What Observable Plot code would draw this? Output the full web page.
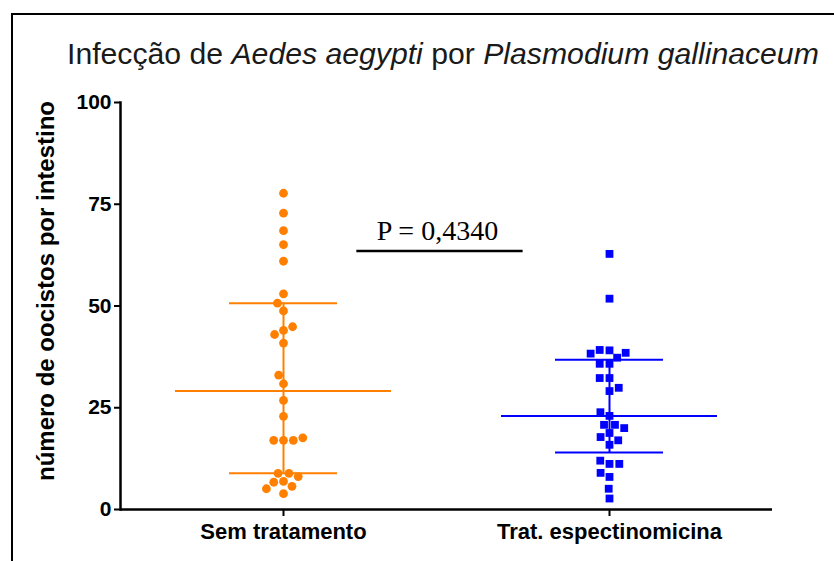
<!DOCTYPE html>
<html><head><meta charset="utf-8">
<script src="https://cdn.jsdelivr.net/npm/d3@7"></script>
<script src="https://cdn.jsdelivr.net/npm/@observablehq/plot@0.6"></script>
<style>
html,body{margin:0;padding:0;background:#fff;}
#wrap{position:relative;width:834px;height:561px;overflow:hidden;font-family:"Liberation Sans",Arial,sans-serif;}
#border{position:absolute;left:11px;top:13px;width:900px;height:700px;border-top:2px solid #000;border-left:2px solid #000;}
#title{position:absolute;left:67px;top:39px;white-space:nowrap;font-size:30.2px;color:#1a1a1a;line-height:1;}
#chart{position:absolute;left:0;top:80px;}
</style>
</head><body>
<div id="wrap">
  <div id="border"></div>
  <div id="title">Infecção de <i>Aedes aegypti</i> por <i>Plasmodium gallinaceum</i></div>
  <div id="chart"></div>
</div>
<script>
const categories = ["Sem tratamento", "Trat. espectinomicina"];
// points of each group (number of oocysts per midgut)
const semTratamento = [77.7, 72.8, 68.5, 65.1, 61.0, 53.0, 48.8, 44.0, 40.9, 30.9, 26.8, 22.9, 17.0, 6.9, 3.9,
  50.7, 43.0, 44.9, 33.0, 17.0, 17.0, 17.6, 8.9, 8.9, 8.1, 6.7, 5.7, 5.1];
const espectinomicina = [62.8, 51.8, 39.1, 35.8, 32.3, 29.1, 23.0, 18.8, 15.9, 11.2, 8.0, 2.7,
  39.2, 37.3, 38.5, 38.3, 35.8, 32.3, 29.9, 23.9, 20.8, 20.8, 20.0, 17.8, 17.0, 12.0, 11.2, 9.0, 5.1];
// median and interquartile range
const medians = [29.1, 23.0];
const q1 = [8.9, 14.0];
const q3 = [50.7, 36.8];
const yTicks = [0, 25, 50, 75, 100];
const yLabel = "número de oocistos por intestino";
const pLabel = "P = 0,4340";
const pLevel = 63.4;
const colors = ["#FF8000", "#0000FF"];
const symbols = ["circle", "square"];

const points = [
  ...semTratamento.map(v => ({category: categories[0], value: v})),
  ...espectinomicina.map(v => ({category: categories[1], value: v}))
];
const stats = categories.map((c, i) => ({category: c, median: medians[i], q1: q1[i], q3: q3[i]}));

const plot = Plot.plot({
  width: 834, height: 481,
  marginTop: 22, marginBottom: 52, marginLeft: 120, marginRight: 62,
  style: {fontFamily: "'Liberation Sans', Arial, sans-serif", background: "transparent", color: "#000", overflow: "visible"},
  fx: {domain: categories, padding: 0, label: null},
  y: {domain: [0, 100]},
  color: {domain: categories, range: colors},
  symbol: {domain: categories, range: symbols},
  marks: [
    Plot.frame({anchor: "left", fx: [categories[0]], stroke: "#000", strokeWidth: 2.5}),
    Plot.ruleY([0], {stroke: "#000", strokeWidth: 2.5}),
    Plot.axisY({ticks: yTicks, tickSize: 6, tickPadding: 3, strokeWidth: 2, fontWeight: "bold", fontSize: 21, label: null}),
    Plot.text([yLabel], {fx: [categories[0]], frameAnchor: "left", textAnchor: "middle", rotate: -90, dx: -74, dy: -15,
      fontSize: 24, fontWeight: "bold", fill: "#000"}),
    Plot.axisFx({anchor: "bottom", tickSize: 7, strokeWidth: 2, tickPadding: 7, fontWeight: "bold", fontSize: 22, label: null}),
    Plot.ruleY(stats, {fx: "category", y: "median", stroke: "category", strokeWidth: 2, insetLeft: 55, insetRight: 55}),
    Plot.ruleY(stats, {fx: "category", y: "q1", stroke: "category", strokeWidth: 2, insetLeft: 109, insetRight: 109}),
    Plot.ruleY(stats, {fx: "category", y: "q3", stroke: "category", strokeWidth: 2, insetLeft: 109, insetRight: 109}),
    Plot.ruleX(stats, {fx: "category", x: null, y1: "q1", y2: "q3", stroke: "category", strokeWidth: 2}),
    Plot.dot(points, Plot.dodgeX("middle", {fx: "category", y: "value", r: 4.4, padding: 1, fill: "category", symbol: "category"}))
  ]
});
document.getElementById("chart").appendChild(plot);

// P-value annotation between the two groups, positioned with the plot's scales
(function () {
  const ys = plot.scale("y"), fxs = plot.scale("fx");
  const bw = fxs.bandwidth ?? 0;
  const c0 = fxs.apply(categories[0]) + bw / 2;
  const c1 = fxs.apply(categories[1]) + bw / 2;
  const x1 = c0 + 0.225 * (c1 - c0), x2 = c0 + 0.735 * (c1 - c0);
  const yy = ys.apply(pLevel);
  const svg = d3.select(plot);
  svg.append("line").attr("x1", x1).attr("x2", x2).attr("y1", yy).attr("y2", yy)
    .attr("stroke", "#000").attr("stroke-width", 2.5);
  svg.append("text").attr("x", (x1 + x2) / 2 - 2).attr("y", yy - 11).attr("text-anchor", "middle")
    .attr("font-family", "'Liberation Serif','Times New Roman',serif").attr("font-size", 28)
    .attr("fill", "#000").text(pLabel);
})();
</script>
</body></html>
